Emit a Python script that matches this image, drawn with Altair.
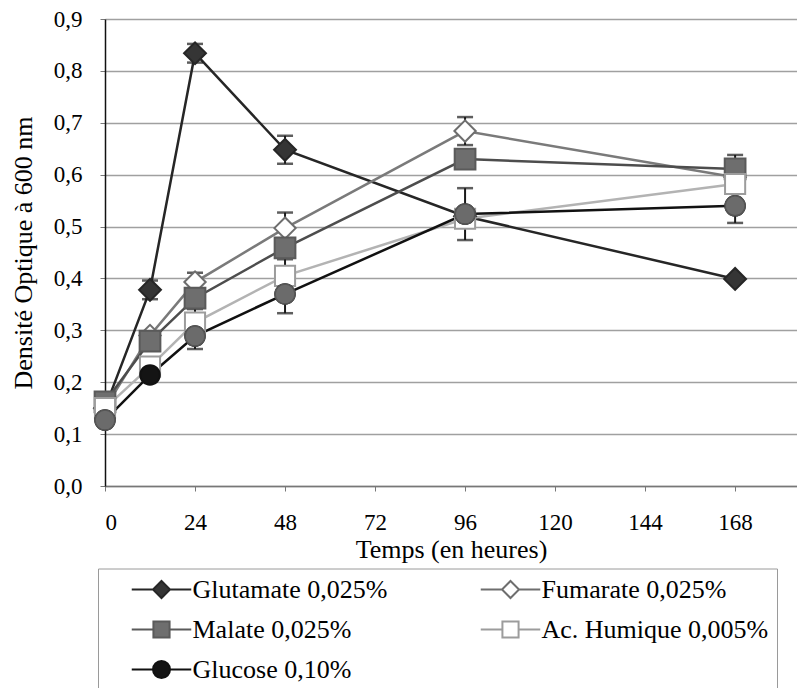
import altair as alt
import pandas as pd

# ---------------- data ----------------
hours = [0, 12, 24, 48, 96, 168]
names = ["Glutamate 0,025%", "Fumarate 0,025%", "Malate 0,025%",
         "Ac. Humique 0,005%", "Glucose 0,10%"]

glutamate = [0.150, 0.378, 0.834, 0.648, 0.520, 0.399]
glutamate_err = [0.010, 0.018, 0.018, 0.027, 0.000, 0.000]

fumarate = [0.150, 0.290, 0.393, 0.497, 0.684, 0.595]
fumarate_err = [0.000, 0.000, 0.018, 0.030, 0.027, 0.000]

malate = [0.162, 0.279, 0.362, 0.459, 0.630, 0.611]
malate_err = [0.000, 0.015, 0.000, 0.000, 0.000, 0.027]

humique = [0.150, 0.230, 0.315, 0.405, 0.515, 0.582]
humique_err = [0.000, 0.017, 0.026, 0.032, 0.000, 0.000]

glucose = [0.127, 0.214, 0.289, 0.370, 0.524, 0.540]
glucose_err = [0.000, 0.012, 0.025, 0.037, 0.050, 0.033]

x_ticks = [0, 24, 48, 72, 96, 120, 144, 168]
y_ticks = [0.0, 0.1, 0.2, 0.3, 0.4, 0.5, 0.6, 0.7, 0.8, 0.9]

all_vals = [glutamate, fumarate, malate, humique, glucose]
all_errs = [glutamate_err, fumarate_err, malate_err, humique_err, glucose_err]

rows = []
for name, vals, errs in zip(names, all_vals, all_errs):
    for t, v, e in zip(hours, vals, errs):
        rows.append({"series": name, "t": t, "od": v, "err": e,
                     "lo": v - e, "hi": v + e})
df = pd.DataFrame(rows)

# ---------------- styles ----------------
FONT = "'Liberation Serif', 'DejaVu Serif', 'Times New Roman', serif"
line_colors = ["#262626", "#7a7a7a", "#4d4d4d", "#b3b3b3", "#111111"]
stroke_colors = ["#262626", "#6e6e6e", "#5a5a5a", "#9c9c9c", "#111111"]
fill_colors = ["#353535", "#ffffff", "#6e6e6e", "#ffffff", "#141414"]
shapes = ["diamond", "diamond", "square", "square", "circle"]
sizes = [480, 380, 400, 360, 400]

p_diamond = "M-3.5,0H-1M1,0H3.5M0,-1L1,0L0,1L-1,0Z"
p_square = "M-3.5,0H-1M1,0H3.5M-0.95,-0.95H0.95V0.95H-0.95Z"
p_circle = "M-3.5,0H-1M1,0H3.5M-1,0A1,1,0,1,0,1,0A1,1,0,1,0,-1,0Z"
legend_paths = [p_diamond, p_diamond, p_square, p_square, p_circle]

xscale = alt.Scale(domain=[0, 184.5], nice=False, zero=False)
yscale = alt.Scale(domain=[0, 0.9], nice=False)

xaxis = alt.Axis(values=x_ticks, title="Temps (en heures)", grid=False,
                 labelFontSize=23, titleFontSize=26, tickSize=5,
                 labelPadding=20, titlePadding=2, domainColor="#777777",
                 domainWidth=1.5, tickColor="#777777", labelAngle=0,
                 labelFont=FONT, titleFont=FONT)
yaxis = alt.Axis(values=y_ticks, title="Densité Optique à 600 nm",
                 labelExpr="replace(format(datum.value, '.1f'), '.', ',')",
                 labelFontSize=23, titleFontSize=26, tickSize=5,
                 labelPadding=18, titlePadding=17, grid=True,
                 gridColor="#a0a0a0", gridWidth=1.5, domainColor="#111111",
                 domainWidth=1.5, tickColor="#777777",
                 labelFont=FONT, titleFont=FONT)

X = alt.X("t:Q", scale=xscale, axis=xaxis)

base = alt.Chart(df)

lines = base.mark_line(strokeWidth=2.5).encode(
    x=X,
    y=alt.Y("od:Q", scale=yscale, axis=yaxis),
    color=alt.Color("series:N", scale=alt.Scale(domain=names, range=line_colors), legend=None),
    order="t:Q",
)

errs = base.transform_filter("datum.err > 0")
err_rule = errs.mark_rule(color="#1a1a1a", strokeWidth=2).encode(
    x=X,
    y=alt.Y("lo:Q", scale=yscale, axis=yaxis),
    y2="hi:Q",
)
cap_lo = errs.mark_tick(orient="horizontal", size=16, thickness=2.5, color="#1a1a1a").encode(
    x=X, y=alt.Y("lo:Q", scale=yscale, axis=yaxis))
cap_hi = errs.mark_tick(orient="horizontal", size=16, thickness=2.5, color="#1a1a1a").encode(
    x=X, y=alt.Y("hi:Q", scale=yscale, axis=yaxis))

points = base.mark_point(filled=True, strokeWidth=2, opacity=1).encode(
    x=X,
    y=alt.Y("od:Q", scale=yscale, axis=yaxis),
    shape=alt.Shape("series:N", scale=alt.Scale(domain=names, range=shapes), legend=None),
    fill=alt.Fill("series:N", scale=alt.Scale(domain=names, range=fill_colors), legend=None),
    stroke=alt.Stroke("series:N", scale=alt.Scale(domain=names, range=stroke_colors), legend=None),
    size=alt.Size("series:N", scale=alt.Scale(domain=names, range=sizes), legend=None),
)

glucose_grey = base.transform_filter(
    "datum.series == 'Glucose 0,10%' && datum.t != 12"
).mark_point(filled=True, shape="circle", size=400, fill="#6b6b6b",
             stroke="#555555", strokeWidth=1.5, opacity=1).encode(
    x=X, y=alt.Y("od:Q", scale=yscale, axis=yaxis))

leg = alt.Legend(
    title=None, orient="none", legendX=-7, legendY=549.5, columns=2,
    direction="horizontal",
    columnPadding=67, rowPadding=14, padding=8, strokeColor="#9a9a9a",
    fillColor="white", symbolOffset=42.5, labelOffset=18,
    labelFont=FONT, labelFontSize=26, labelColor="black", labelLimit=400,
    symbolSize=289, symbolStrokeWidth=2, symbolOpacity=1,
)
legend_layer = base.mark_point(filled=True, opacity=0).encode(
    x=X,
    y=alt.Y("od:Q", scale=yscale, axis=yaxis),
    shape=alt.Shape("series:N", scale=alt.Scale(domain=names, range=legend_paths), legend=leg),
    fill=alt.Fill("series:N", scale=alt.Scale(domain=names, range=fill_colors), legend=leg),
    stroke=alt.Stroke("series:N", scale=alt.Scale(domain=names, range=stroke_colors), legend=leg),
)

chart = alt.layer(
    lines, err_rule, cap_lo, cap_hi, points, glucose_grey, legend_layer
).resolve_scale(
    color="independent", shape="independent", fill="independent",
    stroke="independent", size="independent"
).properties(
    width=692, height=467, padding={"left": 2, "top": 0, "right": 0, "bottom": 0}
).configure_view(stroke=None).configure_axis(
    labelFont=FONT, titleFont=FONT, labelColor="black", titleColor="black",
    titleFontWeight="normal"
)

chart.save("out.html", embed_options={"renderer": "svg", "actions": False})
